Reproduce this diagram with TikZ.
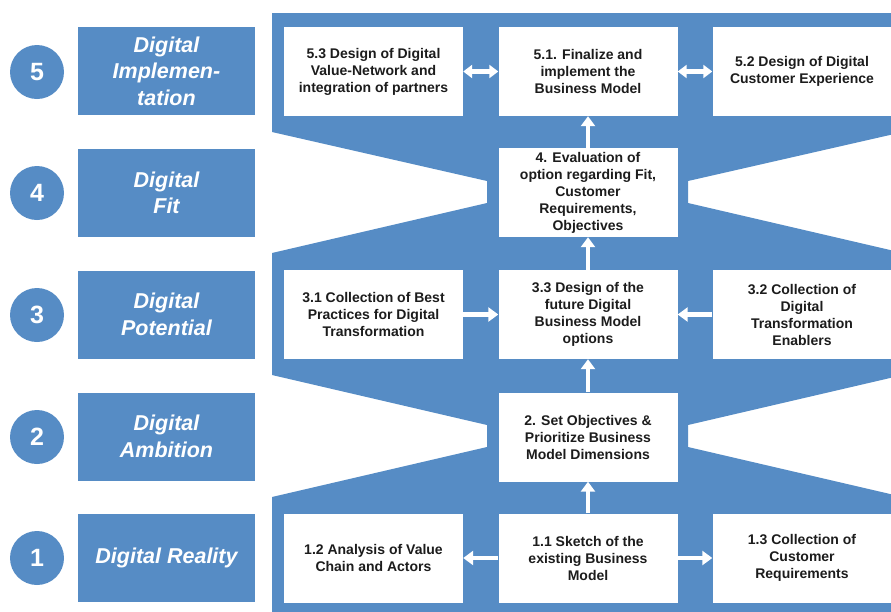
\documentclass[tikz,border=0pt]{standalone}
\usepackage{fontspec}
\setmainfont{Liberation Sans}
\usetikzlibrary{arrows.meta}
\definecolor{pblue}{RGB}{86,140,197}
\definecolor{ptext}{RGB}{28,28,28}
\begin{document}
\begin{tikzpicture}[x=1pt,y=-1pt,
  box/.style={fill=white, minimum width=179pt, minimum height=89pt, inner sep=0pt, align=center,
    font=\bfseries\fontsize{14}{17}\selectfont, text=ptext},
  lab/.style={fill=pblue, minimum width=177pt, minimum height=88pt, inner sep=0pt, align=center,
    font=\bfseries\itshape\fontsize{21.5}{26.5}\selectfont, text=white},
  num/.style={circle, fill=pblue, minimum size=54pt, inner sep=0pt,
    font=\bfseries\fontsize{25}{30}\selectfont, text=white},
  arr/.style={draw=white, line width=4.5pt, -{Triangle[width=14pt,length=10pt]}},
  darr/.style={draw=white, line width=4.5pt, {Triangle[width=13pt,length=9pt]}-{Triangle[width=13pt,length=9pt]}}]
\useasboundingbox (0,0) rectangle (891,611);
\clip (0,0) rectangle (891,611);
\fill[white] (0,0) rectangle (891,611);
% blue background shape
\fill[pblue] (272,13) -- (903,13) -- (903,132) -- (688,181) -- (688,203) -- (903,253)
  -- (903,375) -- (688,425) -- (688,447) -- (903,497) -- (903,615) -- (272,615)
  -- (272,497) -- (487,447) -- (487,425) -- (272,375) -- (272,253) -- (487,203)
  -- (487,181) -- (272,132) -- cycle;
% left labels
\node[num] (n5) at (37,72) {5};
\node[num] (n4) at (37,193) {4};
\node[num] (n3) at (37,315) {3};
\node[num] (n2) at (37,437) {2};
\node[num] (n1) at (37,558) {1};
\node[lab] (l5) at (166.5,71) {Digital\\Implemen-\\tation};
\node[lab] (l4) at (166.5,193) {Digital\\Fit};
\node[lab] (l3) at (166.5,314.5) {Digital\\Potential};
\node[lab] (l2) at (166.5,436.5) {Digital\\Ambition};
\node[lab] (l1) at (166.5,558) {Digital Reality};
% boxes
\node[box] (b53) at (373.5,71.5) {5.3 Design of Digital\\Value-Network and\\integration of partners};
\node[box] (b51) at (588,71.5) {5.1. Finalize and\\implement the\\Business Model};
\node[box] (b52) at (802,71.5) {5.2 Design of Digital\\Customer Experience};
\node[box] (b4) at (588,192.5) {4. Evaluation of\\option regarding Fit,\\Customer\\Requirements,\\Objectives};
\node[box] (b31) at (373.5,314.5) {3.1 Collection of Best\\Practices for Digital\\Transformation};
\node[box] (b33) at (588,314.5) {3.3 Design of the\\future Digital\\Business Model\\options};
\node[box] (b32) at (802,314.5) {3.2 Collection of\\Digital\\Transformation\\Enablers};
\node[box] (b2) at (588,437) {2. Set Objectives \&\\Prioritize Business\\Model Dimensions};
\node[box] (b12) at (373.5,558) {1.2 Analysis of Value\\Chain and Actors};
\node[box] (b11) at (588,558) {1.1 Sketch of the\\existing Business\\Model};
\node[box] (b13) at (802,558) {1.3 Collection of\\Customer\\Requirements};
% arrows
\draw[darr] (b53) -- (b51);
\draw[darr] (b51) -- (b52);
\draw[arr] (b4) -- (b51);
\draw[arr] (b33) -- (b4);
\draw[arr] (b31) -- (b33);
\draw[arr] (b32) -- (b33);
\draw[arr] (b2) -- (b33);
\draw[arr] (b11) -- (b2);
\draw[arr] (b11) -- (b12);
\draw[arr] (b11) -- (b13);
\end{tikzpicture}
\end{document}
